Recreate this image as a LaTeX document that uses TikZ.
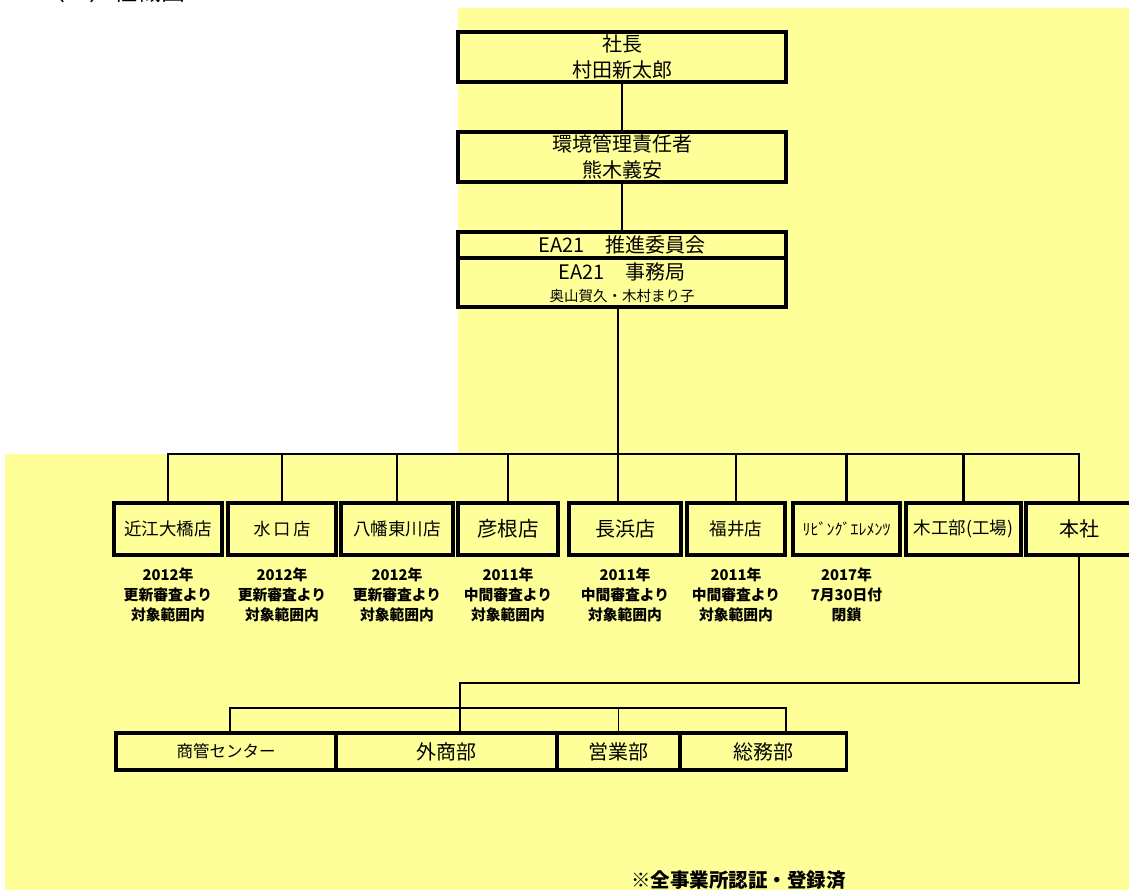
\documentclass[tikz,border=0pt]{standalone}
\usepackage{fontspec}
\setmainfont{Noto Sans CJK JP}
\usetikzlibrary{positioning}
\definecolor{padyellow}{HTML}{FFFF99}

\tikzset{
  orgbox/.style={draw, line width=3.4pt, fill=padyellow, inner sep=0pt, align=center,
    font=\fontsize{20}{26}\selectfont},
  shopbox/.style={orgbox, minimum height=52pt, font=\fontsize{17}{20}\selectfont},
  deptbox/.style={orgbox, minimum height=37pt, font=\fontsize{20}{20}\selectfont},
  memo/.style={align=center, font=\fontsize{14.8}{20}\selectfont\bfseries},
  link/.style={line width=1.6pt},
  bus/.style={line width=2.6pt},
}

\begin{document}
\begin{tikzpicture}[x=1pt, y=-1pt]
        \useasboundingbox (0,0) rectangle (1129,890);
        \clip (0,0) rectangle (1129,890);
        % background
        \fill[white] (0,0) rectangle (1129,890);
        \fill[padyellow] (458,8) -- (1129,8) -- (1129,890) -- (5,890) -- (5,454) -- (458,454) -- cycle;
        \node[anchor=base west, font=\fontsize{24}{24}\selectfont] (title) at (38,1) {（４）組織図};

        % top of the chart
        \node[orgbox, minimum width=328pt, minimum height=50pt] (shacho) at (622,57) {社長\\村田新太郎};
        \node[orgbox, minimum width=328pt, minimum height=50pt] (kankyo) at (622,157) {環境管理責任者\\熊木義安};
        \node[orgbox, minimum width=328pt, minimum height=26pt] (suishin) at (622,245) {EA21\quad 推進委員会};
        \node[orgbox, minimum width=328pt, minimum height=49pt] (jimu) at (622,282.5)
          {EA21\quad 事務局\\[-4pt]{\fontsize{14.5}{16}\selectfont 奥山賀久・木村まり子}};

        % shops
        \node[shopbox, minimum width=108pt, font=\fontsize{17.5}{20}\selectfont] (oumi) at (168,529) {近江大橋店};
        \node[shopbox, minimum width=108pt] (mizuguchi) at (282,529) {水\,口\,店};
        \node[shopbox, minimum width=112pt, font=\fontsize{17.5}{20}\selectfont] (hachiman) at (397,529) {八幡東川店};
        \node[shopbox, minimum width=100pt, font=\fontsize{20.5}{20}\selectfont] (hikone) at (508,529) {彦根店};
        \node[shopbox, minimum width=112pt, font=\fontsize{20}{20}\selectfont] (nagahama) at (625,529) {長浜店};
        \node[shopbox, minimum width=98pt, font=\fontsize{17.5}{20}\selectfont] (fukui) at (736,529) {福井店};
        \node[shopbox, minimum width=107pt, font=\fontsize{16}{20}\selectfont] (living) at (846.5,529) {ﾘﾋﾞﾝｸﾞｴﾚﾒﾝﾂ};
        \node[shopbox, minimum width=115pt, font=\fontsize{17.5}{20}\selectfont] (mokko) at (963.5,529) {木工部(工場)};
        \node[shopbox, minimum width=106pt, font=\fontsize{20}{20}\selectfont] (honsha) at (1079,529) {本社};

        \node[memo] (m-oumi) at (168,595) {2012年\\更新審査より\\対象範囲内};
        \node[memo] (m-mizuguchi) at (282,595) {2012年\\更新審査より\\対象範囲内};
        \node[memo] (m-hachiman) at (397,595) {2012年\\更新審査より\\対象範囲内};
        \node[memo] (m-hikone) at (508,595) {2011年\\中間審査より\\対象範囲内};
        \node[memo] (m-nagahama) at (625,595) {2011年\\中間審査より\\対象範囲内};
        \node[memo] (m-fukui) at (736,595) {2011年\\中間審査より\\対象範囲内};
        \node[memo] (m-living) at (846.5,595) {2017年\\7月30日付\\閉鎖};

        % departments of the head office
        \node[deptbox, minimum width=220pt, font=\fontsize{16.5}{20}\selectfont] (shokan) at (226,751.5) {商管センター};
        \node[deptbox, minimum width=221pt] (gaisho) at (446.5,751.5) {外商部};
        \node[deptbox, minimum width=123pt] (eigyo) at (618.5,751.5) {営業部};
        \node[deptbox, minimum width=166pt] (somu) at (763.5,751.5) {総務部};

        \node[memo, font=\fontsize{19.5}{20}\selectfont\bfseries, anchor=base] (note) at (738.5,887) {※全事業所認証・登録済};

        % connectors
        \coordinate (trunk) at (618,454);
        \coordinate (subtrunk) at (460,683);
        \coordinate (subL) at (230,708);
        \coordinate (subR) at (786,708);
        \draw[link] (shacho.south) -- (kankyo.north);
        \draw[link] (kankyo.south) -- (suishin.north);
        \draw[link] (jimu.south -| trunk) -- (trunk) -- (nagahama.north -| trunk);
        \draw[bus] (oumi.north) -- (oumi.north |- trunk) -| (honsha.north);
        \foreach \shop in {mizuguchi, hachiman, hikone, fukui, living, mokko}
          \draw[bus] (\shop.north) -- (\shop.north |- trunk);
        \draw[bus] (honsha.south) |- (subtrunk) -- (subtrunk |- gaisho.north);
        \draw[bus] (subL |- shokan.north) -- (subL) -- (subR) -- (subR |- somu.north);
        \draw[link] (eigyo.north) -- (eigyo.north |- subL);
      \end{tikzpicture}
\end{document}
